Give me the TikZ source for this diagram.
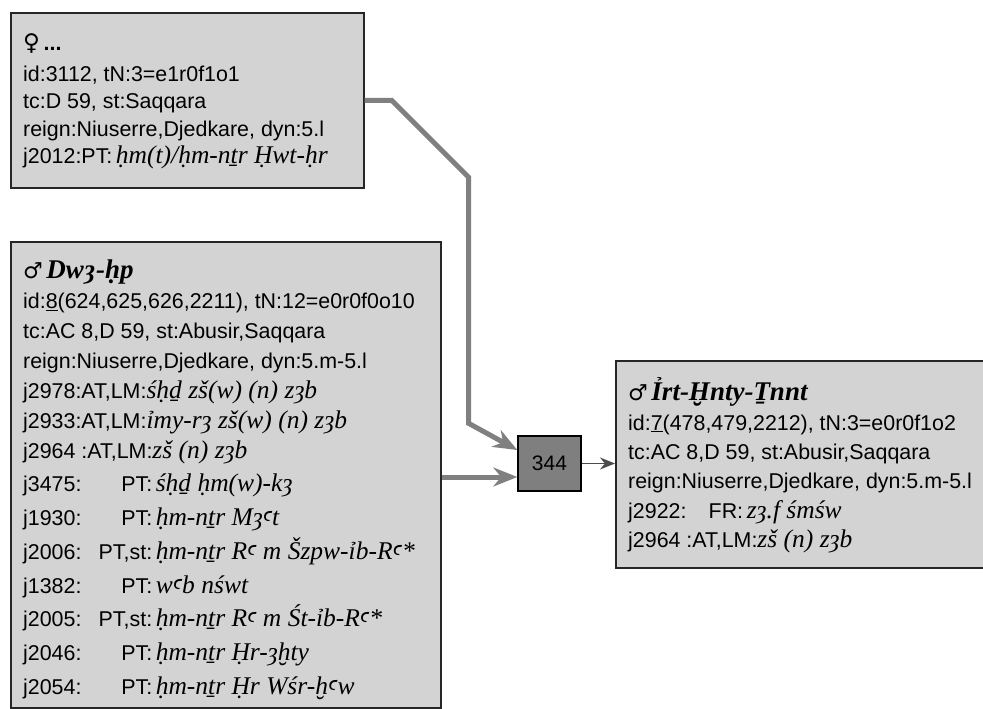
\documentclass[tikz,border=0pt]{standalone}
\usepackage{fontspec}
\setmainfont{Liberation Sans}
\newfontfamily\egfont{Liberation Serif}
\newfontfamily\symfont{DejaVu Sans}
\newfontfamily\ayinfont{Noto Sans}
\usetikzlibrary{arrows.meta,positioning}

\definecolor{cardgray}{HTML}{D3D3D3}
\definecolor{linkgray}{HTML}{808080}
\definecolor{hubgray}{HTML}{7F7F7F}

% 转写文字 / 人名 / 条目标签
\newcommand{\translit}[1]{{\egfont\itshape\fontsize{25.5}{28}\selectfont #1}}
\newcommand{\ayin}{{\ayinfont\itshape ꜥ}}
\newcommand{\pname}[2]{{\symfont\bfseries\fontsize{22}{28}\selectfont #1}\,{\egfont\bfseries\itshape\fontsize{27}{28}\selectfont #2}}
\newcommand{\jtag}[3][129pt]{\makebox[#1][l]{#2:\hfill #3:}\,}

\tikzset{
  card/.style={draw=black!85, line width=1.6pt, fill=cardgray, inner sep=0pt, anchor=north west},
  lines/.style={inner sep=0pt, anchor=north west, align=left},
  hubbox/.style={draw=black, line width=1.4pt, fill=hubgray, minimum width=63pt, minimum height=55pt, font=\fontsize{21}{25}\selectfont},
  feed/.style={draw=linkgray, line width=5pt, -{Stealth[length=24pt,width=19pt]}},
  thinfeed/.style={draw=black!70, line width=1.5pt, -{Stealth[length=15pt,width=12pt]}}
}

\begin{document}
\begin{tikzpicture}[x=1pt, y=-1pt]
        \useasboundingbox (0,0) rectangle (983,709);

        % 上方女性条目
        \node[card, minimum width=353pt, minimum height=175pt] (fem) at (10,12) {};
        \node[lines, font=\fontsize{21.4}{27.5}\selectfont] (femtxt) at (23,31.5) {%
          \strut{\symfont\bfseries\fontsize{23}{28}\selectfont ♀}\,\textbf{...}\\[3pt]
          id:3112, tN:3=e1r0f1o1\\
          tc:D 59, st:Saqqara\\
          reign:Niuserre,Djedkare, dyn:5.l\\
          j2012:PT:\,\translit{ḥm(t)/ḥm-nṯr Ḥwt-ḥr}};

        % 左下男性条目
        \node[card, minimum width=430pt, minimum height=466pt] (dwa) at (10,241) {};
        \node[lines, font=\fontsize{21.4}{30}\selectfont] (dwatxt) at (23,257) {%
          \strut\pname{♂}{Dwȝ-ḥp}\\
          id:\underline{8}(624,625,626,2211), tN:12=e0r0f0o10\\
          tc:AC 8,D 59, st:Abusir,Saqqara\\
          reign:Niuserre,Djedkare, dyn:5.m-5.l\\
          j2978:AT,LM:\translit{śḥḏ zš(w) (n) zȝb}\\
          j2933:AT,LM:\translit{ỉmy-rȝ zš(w) (n) zȝb}\\
          j2964 :AT,LM:\translit{zš (n) zȝb}\\[3.7pt]
          \jtag{j3475}{PT}\translit{śḥḏ ḥm(w)-kȝ}\\[3.7pt]
          \jtag{j1930}{PT}\translit{ḥm-nṯr Mȝ\ayin t}\\[3.7pt]
          \jtag{j2006}{PT,st}\translit{ḥm-nṯr R\ayin{} m Šzpw-ỉb-R\ayin*}\\[3.7pt]
          \jtag{j1382}{PT}\translit{w\ayin b nśwt}\\[3.7pt]
          \jtag{j2005}{PT,st}\translit{ḥm-nṯr R\ayin{} m Śt-ỉb-R\ayin*}\\[3.7pt]
          \jtag{j2046}{PT}\translit{ḥm-nṯr Ḥr-ȝḫty}\\[3.7pt]
          \jtag{j2054}{PT}\translit{ḥm-nṯr Ḥr Wśr-ḫ\ayin w}};

        % 右侧目标条目
        \node[card, minimum width=380pt, minimum height=207pt] (irt) at (615,360) {};
        \node[lines, font=\fontsize{21.4}{29.4}\selectfont] (irttxt) at (628,377.5) {%
          \strut\pname{♂}{Ỉrt-Ḫnty-Ṯnnt}\\
          id:\underline{7}(478,479,2212), tN:3=e0r0f1o2\\
          tc:AC 8,D 59, st:Abusir,Saqqara\\
          reign:Niuserre,Djedkare, dyn:5.m-5.l\\
          \jtag[115pt]{j2922}{FR}\translit{zȝ.f śmśw}\\
          j2964 :AT,LM:\translit{zš (n) zȝb}};

        % 中间编号节点
        \node[hubbox] (hub) at (549.5,463.5) {344};

        % 两条输入连线
        \coordinate (in_top) at ([yshift=13.5pt]hub.west);
        \coordinate (in_low) at ([yshift=-13.5pt]hub.west);
        \draw[feed] (fem.east) -- ++(27,0) -- ++(77,77) -- ++(0,246) -- (in_top);
        \draw[feed] (dwa.east |- in_low) -- (in_low);

        % 输出连线
        \draw[thinfeed] (hub.east) -- (irt.west |- hub.east);
    \end{tikzpicture}
\end{document}
